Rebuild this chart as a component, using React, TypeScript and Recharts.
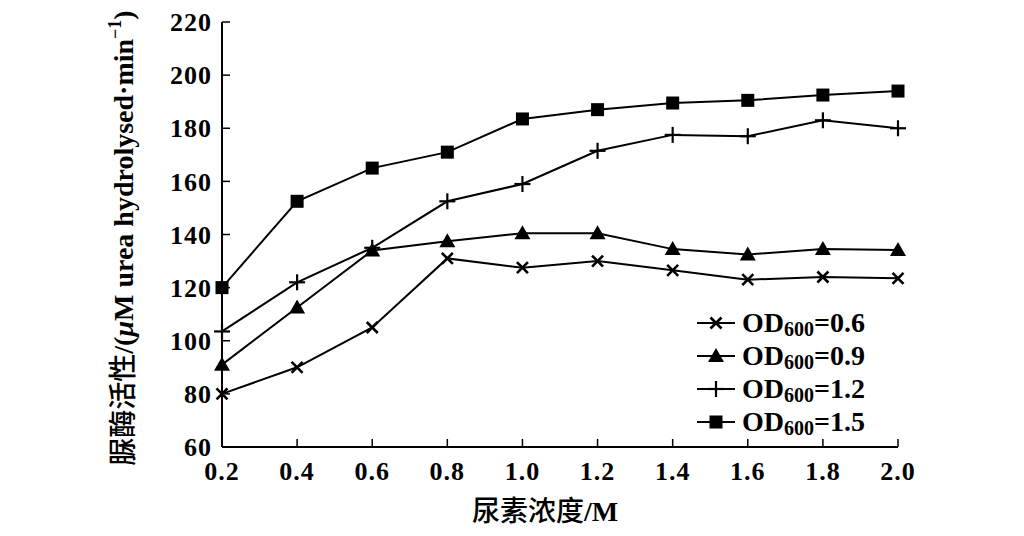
import { LineChart, Line, XAxis, YAxis } from "recharts";

const ureaConc = [0.2, 0.4, 0.6, 0.8, 1.0, 1.2, 1.4, 1.6, 1.8, 2.0];
const od06 = [80, 90, 105, 131, 127.5, 130, 126.5, 123, 124, 123.5];
const od09 = [91, 112.5, 134, 137.5, 140.5, 140.5, 134.5, 132.5, 134.5, 134.2];
const od12 = [103.5, 122, 135, 152.5, 159, 171.5, 177.5, 177, 183, 180];
const od15 = [120, 152.5, 165, 171, 183.5, 187, 189.5, 190.5, 192.5, 194];
const xTicks = [0.2, 0.4, 0.6, 0.8, 1.0, 1.2, 1.4, 1.6, 1.8, 2.0];
const yTicks = [60, 80, 100, 120, 140, 160, 180, 200, 220];

const seriesDefs = [
  { key: "od06", label: "0.6", shape: "cross" },
  { key: "od09", label: "0.9", shape: "triangle" },
  { key: "od12", label: "1.2", shape: "plus" },
  { key: "od15", label: "1.5", shape: "square" },
];

const data = ureaConc.map((x, i) => ({
  x,
  od06: od06[i],
  od09: od09[i],
  od12: od12[i],
  od15: od15[i],
}));

const FONT = '"Liberation Serif", "Times New Roman", serif';
const CJK = '"Noto Sans CJK SC", sans-serif';

function Marker({ shape, cx, cy }: { shape: string; cx: number; cy: number }) {
  if (shape === "square") {
    return <rect x={cx - 6.5} y={cy - 6.5} width={13} height={13} fill="#000" />;
  }
  if (shape === "triangle") {
    return (
      <polygon
        points={`${cx},${cy - 8} ${cx - 8},${cy + 6} ${cx + 8},${cy + 6}`}
        fill="#000"
      />
    );
  }
  if (shape === "plus") {
    return (
      <g stroke="#000" strokeWidth={2.2}>
        <line x1={cx - 8} y1={cy} x2={cx + 8} y2={cy} />
        <line x1={cx} y1={cy - 8} x2={cx} y2={cy + 8} />
      </g>
    );
  }
  return (
    <g stroke="#000" strokeWidth={2.6}>
      <line x1={cx - 5.5} y1={cy - 5.5} x2={cx + 5.5} y2={cy + 5.5} />
      <line x1={cx - 5.5} y1={cy + 5.5} x2={cx + 5.5} y2={cy - 5.5} />
    </g>
  );
}

function makeDot(shape: string) {
  return (props: any) => {
    const { cx, cy, index } = props;
    if (cx == null || cy == null) return <g key={index} />;
    return <Marker key={index} shape={shape} cx={cx} cy={cy} />;
  };
}

function LegendBox() {
  return (
    <div
      style={{
        position: "absolute",
        left: 697,
        top: 306,
        fontFamily: FONT,
        fontWeight: 700,
        fontSize: 28,
        lineHeight: "28px",
        color: "#000",
      }}
    >
      {seriesDefs.map((s) => (
        <div key={s.key} style={{ display: "flex", alignItems: "center", height: 33 }}>
          <svg width={40} height={20} style={{ marginRight: 5 }}>
            <line x1={0} y1={10} x2={38} y2={10} stroke="#000" strokeWidth={2} />
            <Marker shape={s.shape} cx={19} cy={10} />
          </svg>
          <span>
            OD<sub style={{ fontSize: 20, verticalAlign: "-4px", lineHeight: 0 }}>600</sub>={s.label}
          </span>
        </div>
      ))}
    </div>
  );
}

function YLabel() {
  return (
    <text
      transform="translate(133, 238) rotate(-90)"
      textAnchor="middle"
      fill="#000"
      fontSize={28}
      fontFamily={FONT}
      fontWeight={700}
    >
      <tspan fontFamily={CJK} fontWeight={500}>脲酶活性</tspan>
      <tspan>/(</tspan>
      <tspan fontStyle="italic">μ</tspan>
      <tspan>M urea hydrolysed·min</tspan>
      <tspan fontSize={18} dy={-12}>−1</tspan>
      <tspan dy={12}>)</tspan>
    </text>
  );
}

function XLabel() {
  return (
    <text x={545} y={521} textAnchor="middle" fill="#000" fontSize={28} fontWeight={700}>
      <tspan fontFamily={CJK} fontWeight={500}>尿素浓度</tspan>
      <tspan fontFamily={FONT}>/M</tspan>
    </text>
  );
}

const tickStyle = { fill: "#000", fontSize: 26, fontFamily: FONT, fontWeight: 700, letterSpacing: 1 };

export default function App() {
  return (
    <div style={{ position: "absolute", left: 0, top: 0, width: 1024, height: 536, background: "#fff" }}>
      <LineChart
        width={1024}
        height={536}
        data={data}
        margin={{ top: 22, right: 126, bottom: 44, left: 152 }}
      >
        <XAxis
          dataKey="x"
          type="number"
          domain={[0.2, 2.0]}
          ticks={xTicks}
          tickFormatter={(v: number) => v.toFixed(1)}
          tick={tickStyle}
          axisLine={{ stroke: "#000", strokeWidth: 2 }}
          tickLine={{ stroke: "#000", strokeWidth: 1.5 }}
          tickSize={-8}
          tickMargin={23}
          height={45}
          label={<XLabel />}
        />
        <YAxis
          type="number"
          domain={[60, 220]}
          ticks={yTicks}
          tick={tickStyle}
          axisLine={{ stroke: "#000", strokeWidth: 2 }}
          tickLine={{ stroke: "#000", strokeWidth: 1.5 }}
          tickSize={-8}
          tickMargin={18}
          width={70}
          label={<YLabel />}
        />
        {seriesDefs.map((s) => (
          <Line
            key={s.key}
            dataKey={s.key}
            stroke="#000"
            strokeWidth={2}
            dot={makeDot(s.shape)}
            activeDot={false}
            isAnimationActive={false}
          />
        ))}
      </LineChart>
      <LegendBox />
    </div>
  );
}
